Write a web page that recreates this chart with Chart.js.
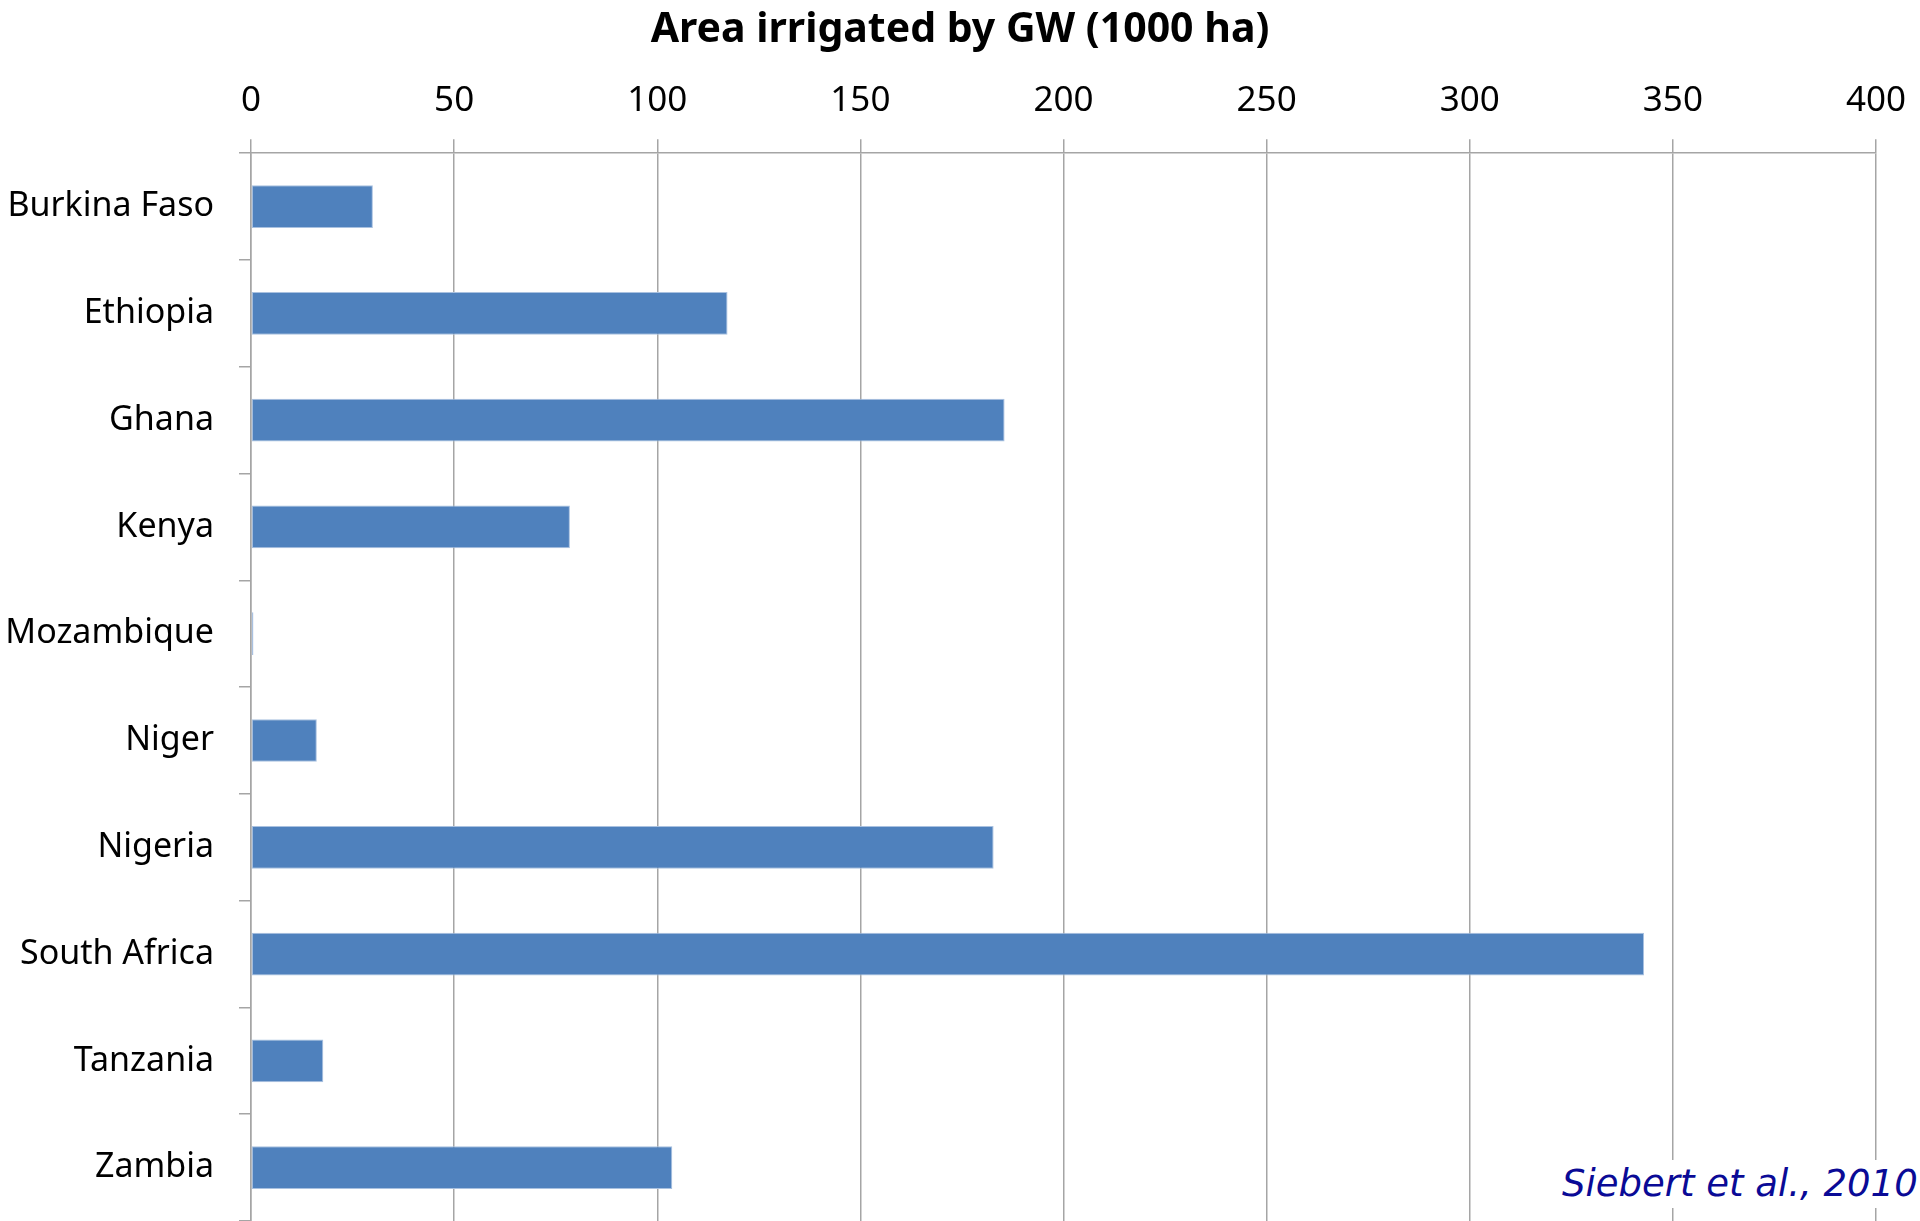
<!DOCTYPE html>
<html>
<head>
<meta charset="utf-8">
<script src="https://cdn.jsdelivr.net/npm/chart.js@4"></script>
<style>
  html, body { margin: 0; padding: 0; background: #fff; }
  #wrap { position: relative; width: 1920px; height: 1221px; overflow: hidden; }
  #myChart1 { display: block; }
  #cite {
    position: absolute; left: 1558px; top: 1160px;
    padding: 0 4px; background: #fff; white-space: nowrap;
    font-family: "DejaVu Sans", sans-serif; font-style: italic;
    font-size: 37px; color: #0a0a96; line-height: 48px;
  }
</style>
</head>
<body>
<div id="wrap">
  <canvas id="myChart1" width="1920" height="1221"></canvas>
  <div id="cite">Siebert et al., 2010</div>
</div>
<script>
// 국가별 지하수 관개 면적 (1000 ha)
const countries = ['Burkina Faso', 'Ethiopia', 'Ghana', 'Kenya', 'Mozambique',
                   'Niger', 'Nigeria', 'South Africa', 'Tanzania', 'Zambia'];
const areaGW = [30, 117.3, 185.5, 78.5, 0.6, 16.2, 182.8, 342.9, 17.8, 103.7];
const xTicks = [0, 50, 100, 150, 200, 250, 300, 350, 400];

const gridGray = '#a5a5a5';

const ctx = document.getElementById('myChart1').getContext('2d');
const config = {
    type: 'bar',
    data: {
        labels: countries,
        datasets: [{
            label: 'Area irrigated by GW (1000 ha)',
            data: areaGW,
            backgroundColor: '#4f81bd',
            borderColor: '#a9c1e0',
            borderWidth: 1,
            borderSkipped: false,
            categoryPercentage: 1.0,
            barPercentage: 0.4
        }]
    },
    options: {
        indexAxis: 'y',
        responsive: false,
        animation: false,
        layout: { padding: 0 },
        plugins: {
            legend: { display: false },
            tooltip: { enabled: false },
            title: {
                display: true,
                text: 'Area irrigated by GW (1000 ha)',
                color: '#000',
                font: { family: 'Noto Sans', size: 41, weight: 'bold' },
                padding: { top: 6, bottom: 8 }
            }
        },
        scales: {
            x: {
                position: 'top',
                min: 0,
                max: 400,
                afterBuildTicks: (scale) => {
                    scale.ticks = xTicks.map(v => ({ value: v }));
                },
                afterFit: (scale) => {
                    scale.paddingLeft = 0;
                    scale.paddingRight = 44;
                },
                ticks: {
                    color: '#000',
                    font: { family: 'Noto Sans', size: 35 },
                    padding: 17,
                    maxRotation: 0
                },
                grid: {
                    color: gridGray,
                    lineWidth: 1.5,
                    tickLength: 14
                },
                border: { color: gridGray, width: 1.5 }
            },
            y: {
                afterFit: (scale) => {
                    scale.width = 251;
                    scale.paddingTop = 0;
                    scale.paddingBottom = 0;
                },
                ticks: {
                    color: '#000',
                    font: { family: 'Noto Sans', size: 34 },
                    padding: 25
                },
                grid: {
                    offset: true,
                    drawOnChartArea: false,
                    color: gridGray,
                    lineWidth: 1.5,
                    tickLength: 12
                },
                border: { color: gridGray, width: 1.5 }
            }
        }
    }
};
const myChart1 = new Chart(ctx, config);
</script>
</body>
</html>
